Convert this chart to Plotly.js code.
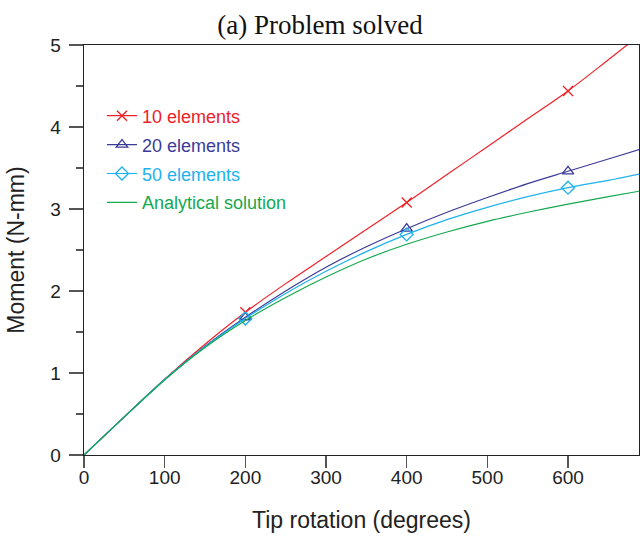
<!DOCTYPE html>
<html>
<head>
<meta charset="utf-8">
<script src="https://cdn.plot.ly/plotly-3.0.1.min.js"></script>
<style>html,body{margin:0;padding:0;background:#fff;}#chart{width:640px;height:536px;}</style>
</head>
<body>
<div id="chart"></div>
<script>
// Tip rotation (degrees)
const rotation = [0, 50, 100, 150, 200, 250, 300, 350, 400, 450, 500, 550, 600, 650, 690];
// Moment (N-mm)
const elements10 = [0, 0.465, 0.925, 1.35, 1.74, 2.09, 2.42, 2.75, 3.08, 3.42, 3.76, 4.10, 4.44, 4.82, 5.13];
const elements20 = [0, 0.465, 0.92, 1.325, 1.68, 2.00, 2.29, 2.54, 2.76, 2.96, 3.14, 3.31, 3.46, 3.61, 3.73];
const elements50 = [0, 0.465, 0.92, 1.32, 1.665, 1.97, 2.24, 2.48, 2.69, 2.87, 3.02, 3.15, 3.26, 3.35, 3.43];
const analytical = [0, 0.465, 0.915, 1.31, 1.64, 1.92, 2.17, 2.39, 2.57, 2.72, 2.85, 2.96, 3.06, 3.15, 3.22];
// rotations where the finite-element results carry a marker
const markerRotations = [200, 400, 600];
const seriesNames = ['10 elements', '20 elements', '50 elements', 'Analytical solution'];
const xTicks = [0, 100, 200, 300, 400, 500, 600];
const yTicks = [0, 1, 2, 3, 4, 5];

const colors = ['#ee2128', '#3b3b98', '#1eb1ee', '#14a84f'];
const symbols = ['x-thin-open', 'triangle-up-open', 'diamond-open', null];
const ys = [elements10, elements20, elements50, analytical];

const traces = [];
ys.forEach((y, i) => {
  traces.push({
    x: rotation, y: y, type: 'scatter', mode: 'lines', showlegend: false,
    line: {color: colors[i], width: 1.2, shape: 'spline', smoothing: 0.9},
    hoverinfo: 'skip'
  });
  if (symbols[i]) {
    const idx = markerRotations.map(r => rotation.indexOf(r));
    traces.push({
      x: idx.map(k => rotation[k]), y: idx.map(k => y[k]),
      type: 'scatter', mode: 'markers', showlegend: false,
      marker: {symbol: symbols[i], size: 10, color: colors[i], line: {color: colors[i], width: 1.3}}
    });
  }
  const leg = {
    x: [null], y: [null], type: 'scatter',
    name: '<span style="color:' + colors[i] + '">' + seriesNames[i] + '</span>',
    legendgroup: 'g' + i, showlegend: true,
    mode: symbols[i] ? 'lines+markers' : 'lines',
    line: {color: colors[i], width: 1.2}
  };
  if (symbols[i]) leg.marker = {symbol: symbols[i], size: 10, color: colors[i], line: {color: colors[i], width: 1.3}};
  traces.push(leg);
});

const layout = {
  width: 640, height: 536,
  margin: {l: 84, r: 1, t: 45, b: 81},
  paper_bgcolor: '#fff', plot_bgcolor: '#fff',
  title: {text: '(a) Problem solved', font: {family: 'Liberation Serif, Times New Roman, serif', size: 27, color: '#111'}, x: 0.5, xref: 'container', y: 0.955, yref: 'container', yanchor: 'middle'},
  font: {family: 'Liberation Sans, Arial, sans-serif', color: '#222'},
  showlegend: true,
  legend: {x: 0.0324, xanchor: 'left', y: 0.872, yanchor: 'top', bgcolor: 'rgba(0,0,0,0)', borderwidth: 0,
           font: {size: 18}, tracegroupgap: 2.5, traceorder: 'grouped'},
  xaxis: {
    range: [0, 688], tickmode: 'array', tickvals: xTicks, ticktext: xTicks.map(String),
    ticks: 'outside', ticklen: 12, tickwidth: 1.3, tickcolor: '#555',
    showline: true, linecolor: '#222', linewidth: 1.3, mirror: true,
    showgrid: false, zeroline: false, ticklabelstandoff: -7,
    tickfont: {size: 19, color: '#222'},
    title: {text: 'Tip rotation (degrees)', font: {size: 23, color: '#222'}, standoff: 24}
  },
  yaxis: {
    range: [0, 5], tickmode: 'array', tickvals: yTicks, ticktext: yTicks.map(String),
    ticks: 'outside', ticklen: 14, tickwidth: 1.3, tickcolor: '#555',
    minor: {dtick: 0.5, ticks: 'outside', ticklen: 7, tickwidth: 1.3, tickcolor: '#555', showgrid: false},
    showline: true, linecolor: '#222', linewidth: 1.3, mirror: true,
    showgrid: false, zeroline: false, ticklabelstandoff: 4,
    tickfont: {size: 19, color: '#222'},
    title: {text: 'Moment (N-mm)', font: {size: 23, color: '#222'}, standoff: 19}
  }
};

Plotly.newPlot('chart', traces, layout, {displayModeBar: false, staticPlot: true});
</script>
</body>
</html>
